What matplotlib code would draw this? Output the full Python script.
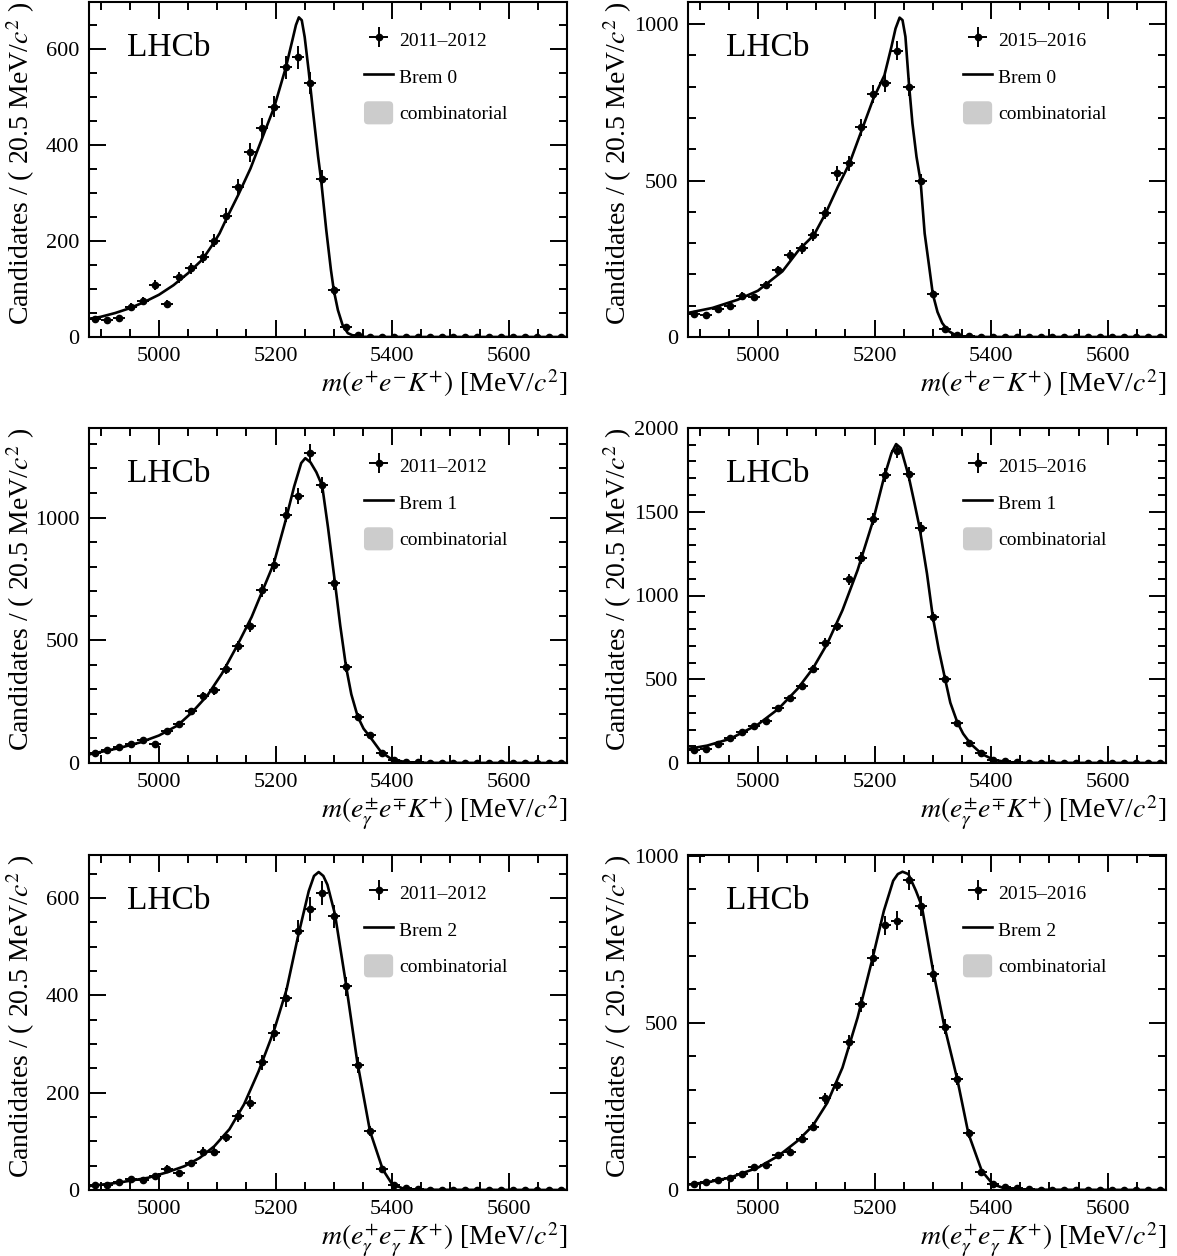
import numpy as np
import matplotlib
matplotlib.use('Agg')
import matplotlib.pyplot as plt
from matplotlib.patches import Patch, FancyBboxPatch
from matplotlib.legend_handler import HandlerPatch
from matplotlib.ticker import MultipleLocator

plt.rcParams['font.family'] = ['Liberation Serif', 'DejaVu Serif']
plt.rcParams['mathtext.fontset'] = 'stix'

# binning: 40 bins of 20.5 MeV between 4880 and 5700
m_lo, m_hi, n_bins = 4880, 5700, 40

# data counts per bin
run1_brem0 = [38, 36, 40, 62, 75, 108, 69, 124, 143, 167, 201, 253, 312, 385, 436, 480, 562, 583, 529, 330,
              97, 20, 5, 1, 0, 0, 0, 0, 0, 0, 0, 0, 0, 0, 0, 0, 0, 0, 0, 0]
run2_brem0 = [73, 71, 89, 100, 131, 127, 165, 213, 263, 283, 326, 396, 523, 555, 670, 777, 811, 915, 800, 499,
              137, 26, 7, 2, 0, 0, 0, 0, 0, 0, 0, 0, 0, 0, 0, 0, 0, 0, 0, 0]
run1_brem1 = [41, 53, 64, 78, 94, 78, 129, 157, 210, 274, 296, 384, 475, 559, 704, 807, 1012, 1089, 1263, 1133,
              734, 391, 189, 114, 42, 12, 4, 3, 1, 0, 0, 0, 0, 0, 0, 0, 0, 0, 0, 0]
run2_brem1 = [80, 84, 114, 150, 184, 218, 253, 329, 389, 459, 563, 717, 818, 1098, 1222, 1457, 1721, 1864, 1727, 1401,
              872, 503, 240, 120, 60, 18, 10, 4, 2, 1, 0, 0, 0, 0, 0, 0, 0, 0, 0, 0]
run1_brem2 = [10, 11, 17, 22, 21, 29, 44, 34, 55, 79, 79, 109, 152, 179, 262, 323, 395, 532, 577, 610,
              562, 418, 257, 121, 43, 10, 5, 3, 1, 0, 0, 0, 0, 0, 0, 0, 0, 0, 0, 0]
run2_brem2 = [17, 23, 29, 37, 49, 69, 76, 104, 115, 154, 189, 274, 314, 442, 555, 695, 792, 806, 927, 849,
              647, 489, 332, 169, 55, 19, 10, 5, 2, 0, 0, 0, 0, 0, 0, 0, 0, 0, 0, 0]

# fitted curves
fit_run1_brem0_x = [4880, 4900, 4925, 4950, 4975, 5000, 5025, 5050, 5075, 5095, 5104, 5116, 5136, 5157, 5177,
                    5198, 5218, 5229, 5235, 5240, 5245, 5250, 5257, 5264, 5273, 5278, 5287, 5295, 5300, 5307,
                    5315, 5324, 5335, 5350, 5380, 5700]
fit_run1_brem0_y = [38, 42, 50, 60, 73, 88, 108, 133, 162, 198, 216, 247, 296, 351, 414, 480, 563, 619, 650,
                    666, 660, 625, 553, 473, 376, 329, 223, 140, 97, 56, 25, 8, 2, 0.3, 0, 0]
fit_run2_brem0_x = [4880, 4922, 4965, 5000, 5042, 5070, 5096, 5116, 5137, 5157, 5177, 5198, 5217, 5229, 5236,
                    5243, 5248, 5253, 5259, 5265, 5272, 5279, 5286, 5293, 5300, 5308, 5316, 5326, 5339, 5355,
                    5380, 5700]
fit_run2_brem0_y = [77, 93, 119, 148, 210, 278, 326, 395, 480, 555, 656, 762, 837, 928, 986, 1021, 1013, 960,
                    810, 683, 576, 498, 331, 235, 137, 80, 45, 20, 6, 1, 0, 0]
fit_run1_brem1_x = [4880, 4930, 4968, 5000, 5032, 5057, 5083, 5108, 5133, 5159, 5178, 5197, 5216, 5232, 5244,
                    5251, 5260, 5270, 5280, 5290, 5302, 5311, 5321, 5330, 5341, 5351, 5361, 5381, 5400, 5425,
                    5460, 5700]
fit_run1_brem1_y = [35, 60, 84, 112, 153, 207, 275, 364, 473, 595, 704, 813, 977, 1127, 1222, 1242, 1225, 1185,
                    1130, 960, 734, 560, 391, 280, 189, 140, 110, 45, 14, 3, 0.5, 0]
fit_run2_brem1_x = [4880, 4913, 4952, 5000, 5035, 5068, 5094, 5119, 5145, 5171, 5197, 5216, 5229, 5237, 5245,
                    5258, 5268, 5277, 5290, 5300, 5310, 5323, 5330, 5342, 5352, 5365, 5384, 5405, 5429, 5455,
                    5700]
fit_run2_brem1_y = [84, 104, 144, 230, 323, 443, 563, 713, 912, 1152, 1441, 1701, 1850, 1904, 1880, 1720, 1560,
                    1411, 1130, 872, 680, 470, 360, 243, 175, 114, 54, 18, 5, 1, 0]
fit_run1_brem2_x = [4880, 4930, 4981, 5013, 5044, 5070, 5095, 5121, 5146, 5171, 5197, 5219, 5238, 5257, 5266,
                    5274, 5282, 5289, 5302, 5321, 5340, 5362, 5384, 5400, 5419, 5444, 5700]
fit_run1_brem2_y = [8, 15, 25, 36, 49, 66, 90, 125, 176, 244, 326, 412, 518, 614, 645, 653, 645, 627, 566, 422,
                    265, 121, 42, 12, 3, 0.5, 0]
fit_run2_brem2_x = [4880, 4919, 4952, 5000, 5035, 5068, 5094, 5119, 5145, 5171, 5197, 5216, 5232, 5240, 5248,
                    5258, 5271, 5281, 5300, 5319, 5342, 5361, 5384, 5403, 5423, 5448, 5700]
fit_run2_brem2_y = [16, 25, 37, 67, 102, 147, 192, 261, 366, 516, 696, 835, 925, 945, 952, 945, 895, 850, 660,
                    496, 331, 169, 57, 17, 5, 1, 0]

years = ['2011\u20132012', '2015\u20132016']
brem_labels = ['Brem 0', 'Brem 1', 'Brem 2']
xlabels = [r'$m(e^{+}e^{-}K^{+})$ [MeV/$c^{2}$]',
           r'$m(e^{\pm}_{\gamma}e^{\mp}K^{+})$ [MeV/$c^{2}$]',
           r'$m(e^{+}_{\gamma}e^{-}_{\gamma}K^{+})$ [MeV/$c^{2}$]']
ylabel = r'Candidates / ( 20.5 MeV/$c^{2}$ )'

panels = [
    (run1_brem0, fit_run1_brem0_x, fit_run1_brem0_y, 698, 200, 50),
    (run2_brem0, fit_run2_brem0_x, fit_run2_brem0_y, 1071, 500, 100),
    (run1_brem1, fit_run1_brem1_x, fit_run1_brem1_y, 1365, 500, 100),
    (run2_brem1, fit_run2_brem1_x, fit_run2_brem1_y, 2000, 500, 100),
    (run1_brem2, fit_run1_brem2_x, fit_run1_brem2_y, 688, 200, 50),
    (run2_brem2, fit_run2_brem2_x, fit_run2_brem2_y, 1002, 500, 100),
]


def rounded_box(legend, orig_handle, xdescent, ydescent, width, height, fontsize):
    return FancyBboxPatch((-xdescent, -ydescent), width, height,
                          boxstyle='round,pad=0,rounding_size=3')


W, H = 1177, 1256
fig = plt.figure(figsize=(W / 100, H / 100), dpi=100)

col_left = [89, 688]
ylab_x = [-0.108, -0.113]
row_top = [2, 428, 855]
ax_w, ax_h = 478, 335

edges = np.linspace(m_lo, m_hi, n_bins + 1)
centers = 0.5 * (edges[1:] + edges[:-1])
half_bin = 0.5 * (edges[1] - edges[0])

for k, (counts, fx, fy, ytop, ymaj, ymin) in enumerate(panels):
    row, col = k // 2, k % 2
    ax = fig.add_axes([col_left[col] / W, 1 - (row_top[row] + ax_h) / H, ax_w / W, ax_h / H])

    counts = np.array(counts, dtype=float)
    err_lo = np.sqrt(counts)
    err_hi = np.where(counts > 0, np.sqrt(counts), 1.15)
    eb = ax.errorbar(centers, counts, xerr=half_bin, yerr=[err_lo, err_hi], fmt='o', color='black',
                     ms=4.5, elinewidth=1.4, capsize=0, zorder=3)
    line, = ax.plot(fx, fy, color='black', lw=1.9, zorder=2, solid_joinstyle='round')

    ax.set_xlim(m_lo, m_hi)
    ax.set_ylim(0, ytop)
    ax.xaxis.set_major_locator(MultipleLocator(200))
    ax.xaxis.set_minor_locator(MultipleLocator(50))
    ax.yaxis.set_major_locator(MultipleLocator(ymaj))
    ax.yaxis.set_minor_locator(MultipleLocator(ymin))
    ax.tick_params(which='both', direction='in', top=True, right=True, width=1.4, labelsize=16, pad=7)
    ax.tick_params(which='major', length=12)
    ax.tick_params(which='minor', length=6)
    for s in ax.spines.values():
        s.set_linewidth(1.5)

    ax.set_xlabel(xlabels[row], fontsize=20, loc='right', labelpad=1)
    ax.set_ylabel(ylabel, fontsize=20, loc='top')
    ax.yaxis.set_label_coords(ylab_x[col], 1.0)

    ax.text(0.08, 0.862, 'LHCb', transform=ax.transAxes, fontsize=24, va='center', ha='left')

    comb = Patch(facecolor='#cccccc', edgecolor='none')
    ax.legend([eb, line, comb], [years[col], brem_labels[row], 'combinatorial'],
              loc='upper left', bbox_to_anchor=(0.559, 0.946), frameon=False, fontsize=14,
              handlelength=1.5, handleheight=1.45, labelspacing=0.7, handletextpad=0.3,
              borderaxespad=0.0, handler_map={Patch: HandlerPatch(patch_func=rounded_box)})

fig.savefig('out.png', dpi=100)
